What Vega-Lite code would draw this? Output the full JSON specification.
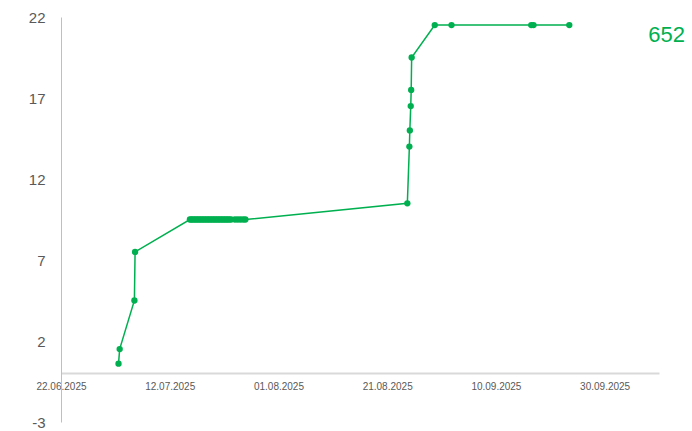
{
  "$schema": "https://vega.github.io/schema/vega-lite/v6.json",
  "autosize": {"type": "none"},
  "padding": {"left": 61, "top": 17, "right": 33, "bottom": 9},
  "width": 598,
  "height": 405,
  "background": "white",
  "config": {"view": {"stroke": null}, "font": "Liberation Sans"},
  "title": {
    "text": "652",
    "orient": "top",
    "anchor": "end",
    "frame": "group",
    "fontSize": 22,
    "fontWeight": "normal",
    "color": "#00b050",
    "baseline": "alphabetic",
    "offset": 0,
    "dx": 26,
    "dy": 54
  },
  "data": {
    "values": [
      {"t": "2025-07-02T14:00:00", "v": 0.6},
      {"t": "2025-07-02T19:00:00", "v": 1.5},
      {"t": "2025-07-05T12:00:00", "v": 4.5},
      {"t": "2025-07-05T15:00:00", "v": 7.5},
      {"t": "2025-07-15T17:00:00", "v": 9.5},
      {"t": "2025-07-15T23:00:00", "v": 9.5},
      {"t": "2025-07-16T06:00:00", "v": 9.5},
      {"t": "2025-07-16T13:00:00", "v": 9.5},
      {"t": "2025-07-16T20:00:00", "v": 9.5},
      {"t": "2025-07-17T03:00:00", "v": 9.5},
      {"t": "2025-07-17T10:00:00", "v": 9.5},
      {"t": "2025-07-17T17:00:00", "v": 9.5},
      {"t": "2025-07-18T00:00:00", "v": 9.5},
      {"t": "2025-07-18T07:00:00", "v": 9.5},
      {"t": "2025-07-18T14:00:00", "v": 9.5},
      {"t": "2025-07-18T21:00:00", "v": 9.5},
      {"t": "2025-07-19T04:00:00", "v": 9.5},
      {"t": "2025-07-19T11:00:00", "v": 9.5},
      {"t": "2025-07-19T18:00:00", "v": 9.5},
      {"t": "2025-07-20T01:00:00", "v": 9.5},
      {"t": "2025-07-20T08:00:00", "v": 9.5},
      {"t": "2025-07-20T15:00:00", "v": 9.5},
      {"t": "2025-07-20T22:00:00", "v": 9.5},
      {"t": "2025-07-21T05:00:00", "v": 9.5},
      {"t": "2025-07-21T12:00:00", "v": 9.5},
      {"t": "2025-07-21T19:00:00", "v": 9.5},
      {"t": "2025-07-22T02:00:00", "v": 9.5},
      {"t": "2025-07-22T09:00:00", "v": 9.5},
      {"t": "2025-07-22T16:00:00", "v": 9.5},
      {"t": "2025-07-22T23:00:00", "v": 9.5},
      {"t": "2025-07-23T07:00:00", "v": 9.5},
      {"t": "2025-07-24T00:00:00", "v": 9.5},
      {"t": "2025-07-24T12:00:00", "v": 9.5},
      {"t": "2025-07-25T00:00:00", "v": 9.5},
      {"t": "2025-07-25T12:00:00", "v": 9.5},
      {"t": "2025-07-25T22:00:00", "v": 9.5},
      {"t": "2025-08-24T17:00:00", "v": 10.5},
      {"t": "2025-08-25T02:00:00", "v": 14},
      {"t": "2025-08-25T04:00:00", "v": 15},
      {"t": "2025-08-25T08:00:00", "v": 16.5},
      {"t": "2025-08-25T10:00:00", "v": 17.5},
      {"t": "2025-08-25T12:00:00", "v": 19.5},
      {"t": "2025-08-29T18:00:00", "v": 21.5},
      {"t": "2025-09-01T20:00:00", "v": 21.5},
      {"t": "2025-09-16T12:00:00", "v": 21.5},
      {"t": "2025-09-16T22:00:00", "v": 21.5},
      {"t": "2025-09-23T12:00:00", "v": 21.5}
    ]
  },
  "encoding": {
    "x": {
      "field": "t",
      "type": "temporal",
      "scale": {
        "domain": [
          {"year": 2025, "month": 6, "date": 22},
          {"year": 2025, "month": 10, "date": 10}
        ],
        "nice": false
      },
      "axis": {
        "title": null,
        "values": [
          {"year": 2025, "month": 6, "date": 22},
          {"year": 2025, "month": 7, "date": 12},
          {"year": 2025, "month": 8, "date": 1},
          {"year": 2025, "month": 8, "date": 21},
          {"year": 2025, "month": 9, "date": 10},
          {"year": 2025, "month": 9, "date": 30}
        ],
        "format": "%d.%m.%Y",
        "offset": -49,
        "grid": false,
        "ticks": false,
        "domainColor": "#d9d9d9",
        "domainWidth": 2,
        "labelFontSize": 10,
        "labelColor": "#595959",
        "labelPadding": 8,
        "labelFlush": false
      }
    },
    "y": {
      "field": "v",
      "type": "quantitative",
      "scale": {"domain": [-3, 22], "nice": false, "zero": false},
      "axis": {
        "title": null,
        "values": [-3, 2, 7, 12, 17, 22],
        "labelExpr": "'' + datum.value",
        "grid": false,
        "ticks": false,
        "domainColor": "#bfbfbf",
        "domainWidth": 1,
        "labelFontSize": 15,
        "labelColor": "#595959",
        "labelPadding": 16
      }
    }
  },
  "layer": [
    {"mark": {"type": "line", "color": "#00b050", "strokeWidth": 1.5}},
    {"mark": {"type": "point", "filled": true, "color": "#00b050", "size": 40, "opacity": 1}}
  ]
}
